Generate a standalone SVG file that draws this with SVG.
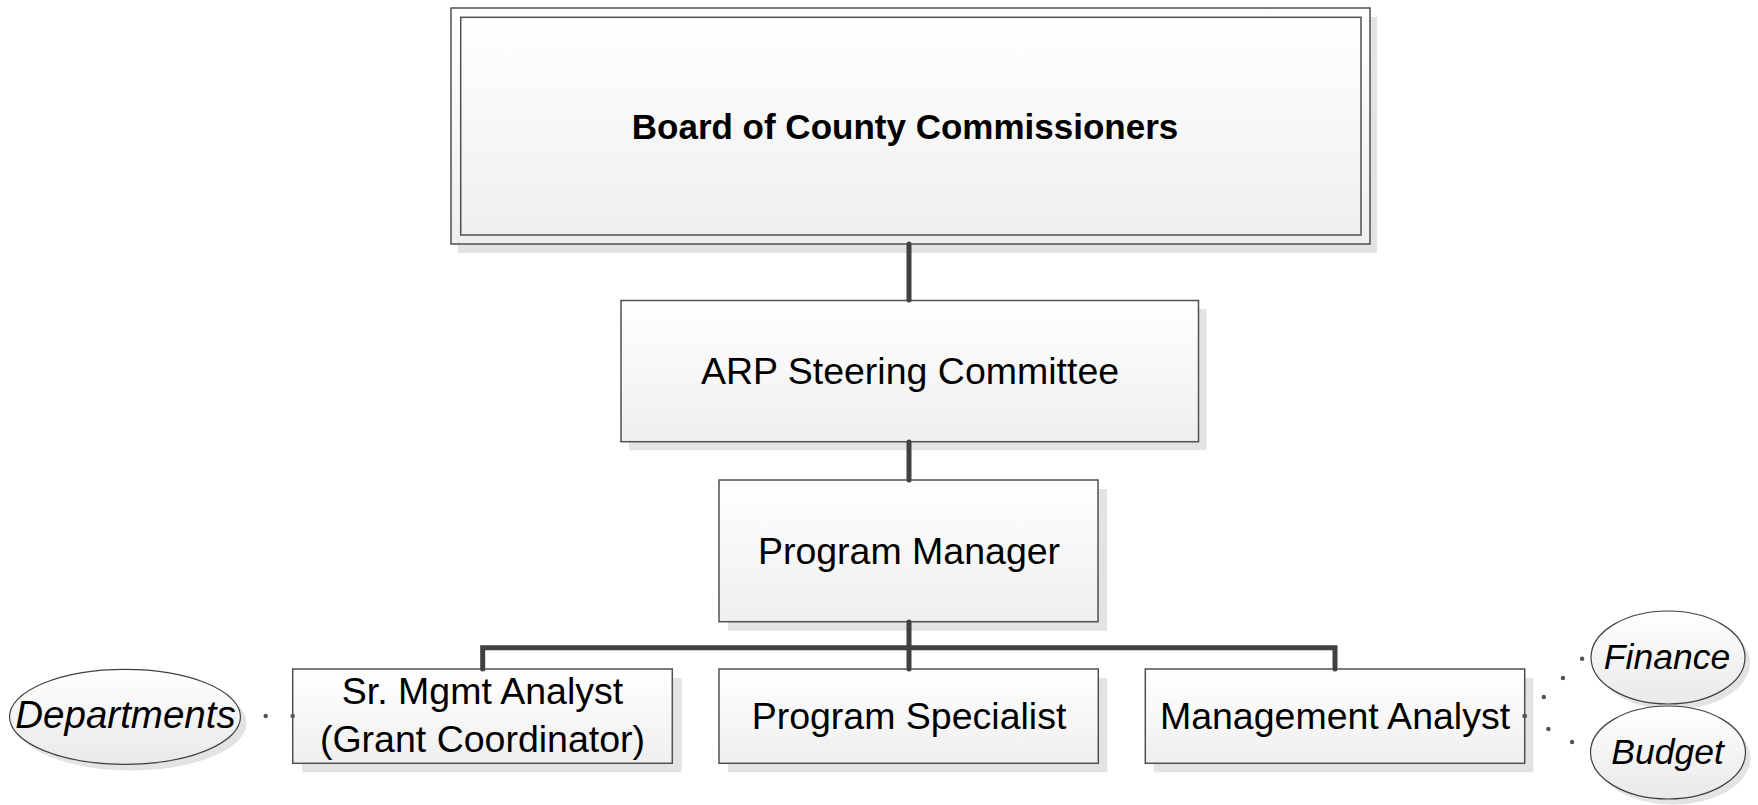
<svg xmlns="http://www.w3.org/2000/svg" width="1758" height="805" viewBox="0 0 1758 805">
<defs>
<linearGradient id="g" x1="0" y1="0" x2="0" y2="1">
<stop offset="0" stop-color="#ffffff"/>
<stop offset="1" stop-color="#efefef"/>
</linearGradient>
<linearGradient id="ge" x1="0" y1="0" x2="0" y2="1">
<stop offset="0" stop-color="#ffffff"/>
<stop offset="1" stop-color="#e9e9e9"/>
</linearGradient>
<style>
.box{fill:url(#g);stroke:#505050;stroke-width:1.5}
.ell{fill:url(#ge);stroke:#404040;stroke-width:1.2}
.sh{fill:#e3e3e3}
.lbl{font-family:"Liberation Sans",Arial,sans-serif;font-size:37.5px;text-anchor:middle;fill:#000}
.b{font-weight:bold;font-size:35px}
.it{font-style:italic;font-size:38.5px}
.its{font-style:italic;font-size:35.5px}
.conn{stroke:#404040;stroke-width:5;fill:none;stroke-linecap:round;stroke-linejoin:miter}
.dot{stroke:#555;stroke-width:4.5;stroke-dasharray:0 27;stroke-linecap:round;fill:none}
</style>
</defs>
<rect width="1758" height="805" fill="#fff"/>

<g id="board">
<rect class="sh" x="458" y="17" width="919" height="236"/>
<rect class="box" x="451" y="8" width="919" height="236"/>
<rect class="box" x="460.7" y="17.3" width="900.3" height="217.7"/>
<text class="lbl b" x="905" y="139">Board of County Commissioners</text>
</g>

<g id="arp">
<rect class="sh" x="629" y="309" width="577.5" height="141.2"/>
<rect class="box" x="621" y="300.5" width="577.5" height="141.2"/>
<text class="lbl" x="910" y="384">ARP Steering Committee</text>
</g>

<g id="pm">
<rect class="sh" x="728" y="489" width="379" height="141.7"/>
<rect class="box" x="719" y="480" width="379" height="141.7"/>
<text class="lbl" x="909" y="564">Program Manager</text>
</g>

<g id="sr">
<rect class="sh" x="302" y="678" width="379.6" height="94.3"/>
<rect class="box" x="292.7" y="669" width="379.6" height="94.3"/>
<text class="lbl" x="482.5" y="704.3">Sr. Mgmt Analyst</text>
<text class="lbl" x="482.5" y="751.7">(Grant Coordinator)</text>
</g>

<g id="ps">
<rect class="sh" x="728" y="678" width="379.3" height="94.3"/>
<rect class="box" x="719" y="669" width="379.3" height="94.3"/>
<text class="lbl" x="909" y="729">Program Specialist</text>
</g>

<g id="ma">
<rect class="sh" x="1154" y="678" width="379.4" height="94.3"/>
<rect class="box" x="1145.3" y="669" width="379.4" height="94.3"/>
<text class="lbl" x="1335" y="729">Management Analyst</text>
</g>

<g id="departments">
<ellipse class="sh" cx="131" cy="723" rx="115.5" ry="47.5"/>
<ellipse class="ell" cx="125" cy="716.8" rx="115.5" ry="47.5"/>
<text class="lbl it" x="125.5" y="728">Departments</text>
</g>

<g id="finance">
<ellipse class="sh" cx="1673" cy="663" rx="77" ry="46.5"/>
<ellipse class="ell" cx="1668" cy="657.5" rx="77" ry="46.5"/>
<text class="lbl its" x="1667" y="669">Finance</text>
</g>

<g id="budget">
<ellipse class="sh" cx="1673" cy="758" rx="77.5" ry="46.5"/>
<ellipse class="ell" cx="1668" cy="752.5" rx="77.5" ry="46.5"/>
<text class="lbl its" x="1667.5" y="764">Budget</text>
</g>

<g id="connectors">
<line class="conn" x1="909" y1="244" x2="909" y2="300"/>
<line class="conn" x1="909" y1="442" x2="909" y2="480"/>
<line class="conn" x1="909" y1="622" x2="909" y2="669"/>
<polyline class="conn" points="482.7,669 482.7,647.7 1335,647.7 1335,669"/>
<line class="dot" x1="292.7" y1="716" x2="250" y2="716"/>
<line class="dot" x1="1524.7" y1="716" x2="1590" y2="651"/>
<line class="dot" x1="1524.7" y1="716" x2="1585" y2="749"/>
</g>
</svg>
